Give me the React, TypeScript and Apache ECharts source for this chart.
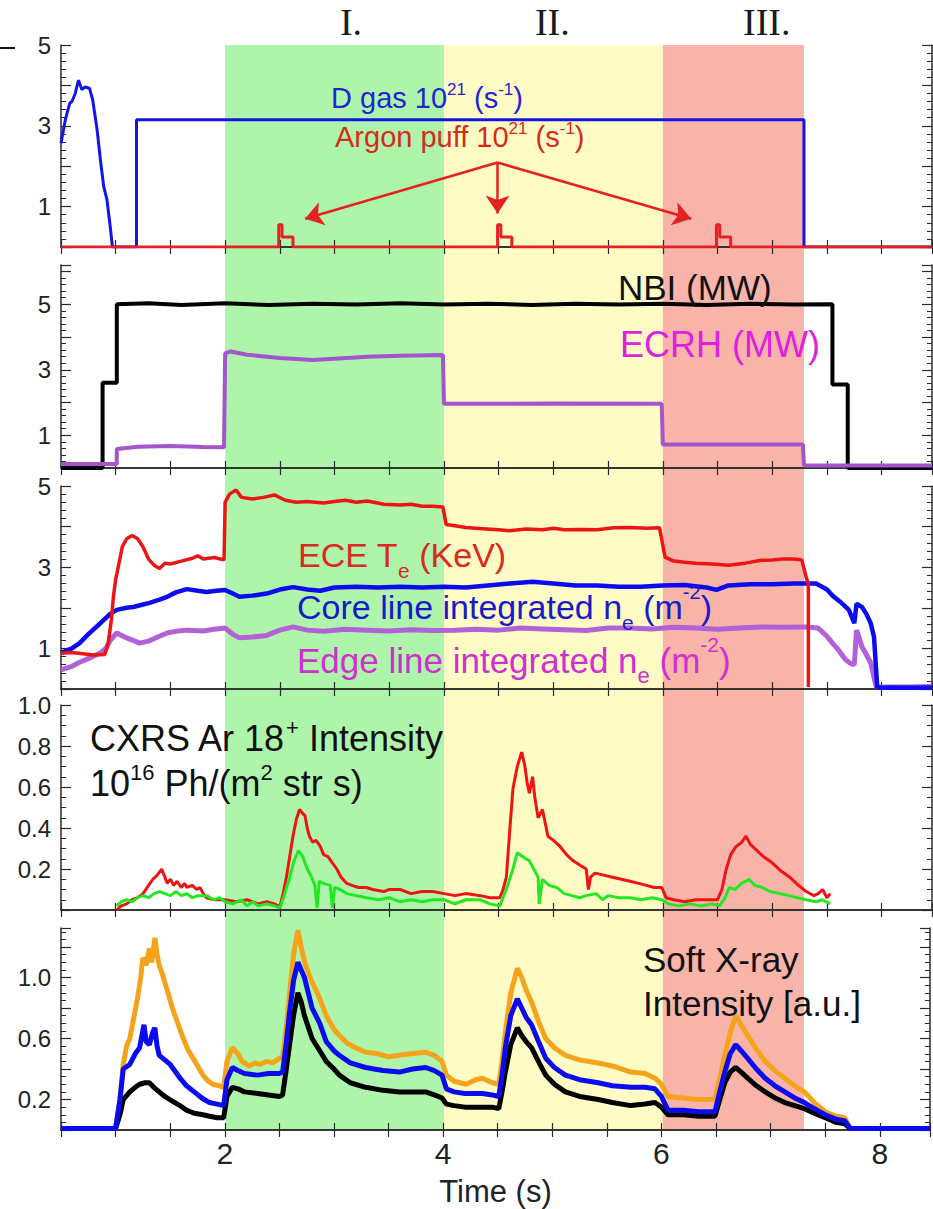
import React, { useEffect, useRef } from "react";
import * as echarts from "echarts";

// ---------------- DATA ----------------
const T_MIN = 0.5;
const T_MAX = 8.46;
const X_TICK_LABELS = [2, 4, 6, 8];
const PHASE_BOUNDS = [2, 4, 6, 7.29];
const PHASE_NAMES = ["I.", "II.", "III."];
const PHASE_NAME_T = [3.15, 4.99, 6.95];

const Y_LABELS_1 = [1, 3, 5];
const Y_LABELS_2 = [1, 3, 5];
const Y_LABELS_3 = [1, 3, 5];
const Y_LABELS_4 = [0.2, 0.4, 0.6, 0.8, 1.0];
const Y_LABELS_5 = [0.2, 0.6, 1.0];

// Panel 1
const D_GAS = [
  [0.5, 2.57], [0.54, 3.15], [0.58, 3.56], [0.6, 3.6], [0.63, 3.8], [0.66, 4.13], [0.69, 3.9],
  [0.72, 3.96], [0.76, 3.93], [0.79, 3.64], [0.83, 2.9], [0.86, 2.16], [0.89, 1.5], [0.92, 1.17],
  [0.95, 0.5], [0.97, 0], [1.19, 0], [1.19, 3.15], [7.29, 3.15], [7.29, 0], [8.46, 0],
];
const ARGON = [
  [0.5, 0], [2.49, 0], [2.49, 0.55], [2.52, 0.55], [2.52, 0.25], [2.62, 0.25], [2.62, 0],
  [4.49, 0], [4.49, 0.55], [4.52, 0.55], [4.52, 0.25], [4.62, 0.25], [4.62, 0],
  [6.49, 0], [6.49, 0.55], [6.52, 0.55], [6.52, 0.25], [6.62, 0.25], [6.62, 0], [8.46, 0],
];
const ARROW_FROM = [4.49, 2.09];
const ARROW_TO = [[2.73, 0.7], [4.49, 0.83], [6.26, 0.7]];

// Panel 2
const NBI = [
  [0.5, 0], [0.88, 0], [0.88, 2.6], [1.01, 2.6], [1.01, 5.0], [1.3, 5.03], [1.6, 4.98], [2.0, 5.03],
  [2.4, 4.98], [2.8, 5.02], [3.2, 4.99], [3.6, 5.03], [4.0, 4.99], [4.4, 5.02], [4.8, 4.98],
  [5.2, 5.02], [5.6, 4.99], [6.0, 5.02], [6.4, 4.98], [6.8, 5.02], [7.2, 4.99], [7.55, 5.0],
  [7.55, 2.55], [7.69, 2.55], [7.69, 0], [8.46, 0],
];
const ECRH = [
  [0.5, 0.12], [1.01, 0.12], [1.01, 0.58], [1.2, 0.65], [1.5, 0.67], [1.8, 0.64], [1.99, 0.63],
  [2.0, 3.5], [2.05, 3.56], [2.2, 3.46], [2.5, 3.36], [2.8, 3.3], [3.0, 3.34], [3.3, 3.4],
  [3.6, 3.43], [3.99, 3.45], [4.0, 1.96], [5.0, 1.97], [5.99, 1.96], [6.0, 0.72], [7.28, 0.72],
  [7.29, 0.08], [8.46, 0.08],
];

// Panel 3
const ECE_TE = [
  [0.5, 0.88], [0.6, 0.9], [0.7, 0.87], [0.8, 0.84], [0.9, 0.85], [0.93, 1.1], [0.96, 1.7],
  [0.98, 2.3], [1.0, 2.7], [1.03, 3.1], [1.06, 3.5], [1.1, 3.7], [1.15, 3.78], [1.2, 3.7],
  [1.25, 3.5], [1.3, 3.2], [1.35, 3.05], [1.4, 2.97], [1.45, 3.1], [1.5, 3.08], [1.6, 3.15],
  [1.7, 3.22], [1.75, 3.28], [1.8, 3.2], [1.9, 3.24], [1.99, 3.18], [2.0, 4.6], [2.04, 4.8],
  [2.1, 4.9], [2.15, 4.72], [2.25, 4.68], [2.35, 4.72], [2.45, 4.78], [2.55, 4.65], [2.65, 4.6],
  [2.75, 4.62], [2.9, 4.58], [3.0, 4.62], [3.1, 4.65], [3.2, 4.6], [3.3, 4.63], [3.45, 4.55],
  [3.6, 4.53], [3.7, 4.55], [3.8, 4.5], [3.9, 4.5], [3.99, 4.48], [4.02, 4.05], [4.1, 4.02],
  [4.2, 3.98], [4.35, 3.95], [4.5, 3.92], [4.6, 3.9], [4.75, 3.94], [4.9, 3.92], [5.0, 3.96],
  [5.1, 3.92], [5.25, 3.93], [5.4, 3.92], [5.55, 3.97], [5.7, 3.98], [5.85, 3.96], [5.97, 3.97],
  [6.02, 3.25], [6.1, 3.15], [6.2, 3.12], [6.3, 3.1], [6.45, 3.08], [6.6, 3.05], [6.75, 3.1],
  [6.9, 3.17], [7.0, 3.18], [7.1, 3.2], [7.2, 3.2], [7.27, 3.18], [7.31, 2.75], [7.33, 2.6],
  [7.33, 0.05],
];
const CORE_NE = [
  [0.5, 0.89], [0.6, 1.0], [0.67, 1.13], [0.75, 1.35], [0.86, 1.62], [0.95, 1.85], [1.01, 1.95],
  [1.1, 2.0], [1.16, 2.02], [1.25, 2.08], [1.31, 2.12], [1.4, 2.2], [1.47, 2.27], [1.55, 2.38],
  [1.65, 2.46], [1.75, 2.42], [1.83, 2.39], [1.92, 2.42], [2.0, 2.44], [2.07, 2.35], [2.13, 2.27],
  [2.25, 2.3], [2.38, 2.35], [2.5, 2.45], [2.62, 2.51], [2.75, 2.45], [2.87, 2.42], [3.0, 2.5],
  [3.2, 2.52], [3.4, 2.5], [3.6, 2.52], [3.8, 2.5], [4.0, 2.52], [4.2, 2.5], [4.4, 2.55],
  [4.6, 2.6], [4.81, 2.64], [5.0, 2.6], [5.2, 2.55], [5.4, 2.55], [5.6, 2.52], [5.8, 2.52],
  [6.0, 2.55], [6.2, 2.56], [6.4, 2.5], [6.49, 2.44], [6.6, 2.55], [6.8, 2.58], [7.0, 2.58],
  [7.2, 2.6], [7.4, 2.6], [7.5, 2.45], [7.55, 2.3], [7.62, 2.15], [7.7, 1.95], [7.75, 1.62],
  [7.77, 2.1], [7.8, 2.05], [7.82, 2.02], [7.86, 1.85], [7.9, 1.62], [7.93, 1.28], [7.96, 0.03],
  [8.1, 0.04], [8.3, 0.03], [8.46, 0.04],
];
const EDGE_NE = [
  [0.5, 0.47], [0.6, 0.56], [0.67, 0.66], [0.76, 0.76], [0.86, 0.89], [0.91, 1.0], [0.95, 1.2],
  [1.01, 1.38], [1.05, 1.32], [1.1, 1.26], [1.22, 1.13], [1.3, 1.18], [1.4, 1.3], [1.47, 1.38],
  [1.55, 1.42], [1.65, 1.45], [1.8, 1.43], [1.9, 1.47], [2.0, 1.5], [2.07, 1.35], [2.13, 1.26],
  [2.25, 1.28], [2.38, 1.32], [2.5, 1.45], [2.62, 1.53], [2.75, 1.45], [2.9, 1.42], [3.1, 1.47],
  [3.3, 1.45], [3.5, 1.43], [3.7, 1.46], [3.9, 1.44], [4.1, 1.45], [4.3, 1.47], [4.5, 1.45],
  [4.7, 1.5], [4.9, 1.48], [5.1, 1.46], [5.3, 1.44], [5.5, 1.5], [5.7, 1.5], [5.9, 1.48],
  [6.1, 1.52], [6.3, 1.5], [6.5, 1.47], [6.7, 1.5], [6.9, 1.53], [7.1, 1.52], [7.3, 1.53],
  [7.42, 1.5], [7.5, 1.3], [7.55, 1.13], [7.6, 0.98], [7.67, 0.72], [7.72, 0.62], [7.75, 0.6],
  [7.77, 1.45], [7.79, 1.3], [7.82, 1.04], [7.86, 0.85], [7.9, 0.64], [7.95, 0.05], [8.2, 0.05],
  [8.46, 0.06],
];

// Panel 4
const CXRS_RED = [
  [1.01, 0.0], [1.05, 0.02], [1.1, 0.03], [1.15, 0.05], [1.2, 0.06], [1.25, 0.08], [1.3, 0.12],
  [1.34, 0.15], [1.38, 0.17], [1.42, 0.2], [1.45, 0.16], [1.47, 0.13], [1.5, 0.15], [1.53, 0.12],
  [1.56, 0.14], [1.6, 0.11], [1.63, 0.13], [1.65, 0.11], [1.7, 0.12], [1.74, 0.1], [1.77, 0.11],
  [1.8, 0.08], [1.83, 0.06], [1.9, 0.05], [2.0, 0.05], [2.1, 0.04], [2.2, 0.05], [2.3, 0.03],
  [2.38, 0.04], [2.45, 0.03], [2.5, 0.015], [2.53, 0.08], [2.56, 0.16], [2.59, 0.26], [2.62, 0.36],
  [2.65, 0.44], [2.68, 0.49], [2.71, 0.47], [2.73, 0.46], [2.75, 0.4], [2.77, 0.36], [2.8, 0.33],
  [2.83, 0.34], [2.87, 0.31], [2.9, 0.27], [2.94, 0.26], [2.98, 0.23], [3.02, 0.2], [3.06, 0.16],
  [3.11, 0.13], [3.16, 0.12], [3.22, 0.11], [3.29, 0.11], [3.35, 0.1], [3.45, 0.09], [3.5, 0.1],
  [3.6, 0.1], [3.7, 0.08], [3.8, 0.09], [3.9, 0.09], [4.0, 0.08], [4.1, 0.07], [4.2, 0.08],
  [4.33, 0.07], [4.42, 0.06], [4.51, 0.06], [4.54, 0.1], [4.57, 0.16], [4.6, 0.38], [4.63, 0.59],
  [4.67, 0.7], [4.71, 0.77], [4.74, 0.7], [4.76, 0.62], [4.78, 0.57], [4.81, 0.65], [4.83, 0.55],
  [4.86, 0.45], [4.9, 0.49], [4.95, 0.36], [5.0, 0.34], [5.06, 0.31], [5.12, 0.27], [5.18, 0.24],
  [5.24, 0.22], [5.3, 0.2], [5.32, 0.1], [5.34, 0.16], [5.38, 0.18], [5.46, 0.17], [5.54, 0.16],
  [5.62, 0.15], [5.7, 0.14], [5.78, 0.13], [5.85, 0.12], [5.92, 0.11], [5.99, 0.11], [6.03, 0.06],
  [6.1, 0.05], [6.2, 0.04], [6.3, 0.05], [6.4, 0.05], [6.5, 0.05], [6.54, 0.1], [6.58, 0.2],
  [6.62, 0.27], [6.67, 0.31], [6.72, 0.33], [6.76, 0.36], [6.8, 0.32], [6.86, 0.29], [6.92, 0.26],
  [7.0, 0.23], [7.08, 0.19], [7.16, 0.16], [7.24, 0.12], [7.31, 0.09], [7.38, 0.07], [7.42, 0.08],
  [7.46, 0.1], [7.5, 0.06], [7.53, 0.08],
];
const CXRS_GREEN = [
  [1.01, 0.02], [1.05, 0.04], [1.1, 0.05], [1.15, 0.04], [1.2, 0.06], [1.25, 0.07], [1.3, 0.06],
  [1.35, 0.08], [1.4, 0.09], [1.45, 0.08], [1.5, 0.07], [1.55, 0.09], [1.6, 0.07], [1.65, 0.08],
  [1.7, 0.06], [1.75, 0.07], [1.83, 0.07], [1.9, 0.05], [1.95, 0.06], [2.0, 0.04], [2.07, 0.03],
  [2.15, 0.05], [2.2, 0.02], [2.25, 0.04], [2.3, 0.02], [2.38, 0.03], [2.45, 0.02], [2.5, 0.01],
  [2.54, 0.07], [2.59, 0.16], [2.63, 0.24], [2.67, 0.29], [2.71, 0.26], [2.75, 0.2], [2.79, 0.16],
  [2.82, 0.12], [2.84, 0.01], [2.86, 0.14], [2.9, 0.13], [2.96, 0.12], [2.98, 0.01], [3.0, 0.11],
  [3.05, 0.1], [3.11, 0.08], [3.2, 0.07], [3.29, 0.06], [3.4, 0.05], [3.5, 0.06], [3.6, 0.04],
  [3.7, 0.05], [3.8, 0.04], [3.9, 0.05], [4.0, 0.05], [4.1, 0.03], [4.2, 0.05], [4.33, 0.05],
  [4.42, 0.03], [4.51, 0.02], [4.57, 0.1], [4.63, 0.2], [4.67, 0.28], [4.72, 0.26], [4.78, 0.24],
  [4.83, 0.19], [4.86, 0.16], [4.87, 0.03], [4.9, 0.15], [4.96, 0.12], [5.03, 0.11], [5.1, 0.08],
  [5.17, 0.07], [5.24, 0.06], [5.3, 0.07], [5.39, 0.08], [5.45, 0.05], [5.5, 0.07], [5.6, 0.06],
  [5.7, 0.06], [5.8, 0.05], [5.9, 0.06], [5.99, 0.05], [6.05, 0.03], [6.15, 0.02], [6.25, 0.03],
  [6.35, 0.02], [6.45, 0.03], [6.52, 0.02], [6.57, 0.06], [6.61, 0.11], [6.66, 0.1], [6.72, 0.13],
  [6.79, 0.15], [6.84, 0.12], [6.91, 0.11], [6.98, 0.09], [7.07, 0.08], [7.15, 0.07], [7.23, 0.06],
  [7.31, 0.05], [7.4, 0.04], [7.46, 0.05], [7.53, 0.03],
];

// Panel 5
const SXR_ORANGE = [
  [0.5, 0.01], [1.0, 0.01], [1.04, 0.2], [1.07, 0.43], [1.1, 0.55], [1.13, 0.6], [1.17, 0.75],
  [1.2, 0.86], [1.23, 1.0], [1.25, 1.13], [1.28, 1.08], [1.31, 1.19], [1.33, 1.1], [1.36, 1.26],
  [1.38, 1.15], [1.4, 1.08], [1.43, 1.02], [1.45, 0.97], [1.48, 0.9], [1.52, 0.8], [1.56, 0.72],
  [1.61, 0.62], [1.66, 0.53], [1.71, 0.47], [1.76, 0.41], [1.8, 0.36], [1.85, 0.32], [1.89, 0.3],
  [1.95, 0.29], [1.99, 0.28], [2.02, 0.45], [2.07, 0.54], [2.12, 0.5], [2.16, 0.45], [2.22, 0.42],
  [2.28, 0.44], [2.32, 0.43], [2.38, 0.45], [2.44, 0.44], [2.5, 0.47], [2.53, 0.48], [2.56, 0.65],
  [2.59, 0.87], [2.63, 1.15], [2.67, 1.31], [2.7, 1.2], [2.74, 1.08], [2.8, 0.97], [2.86, 0.88],
  [2.93, 0.75], [3.0, 0.66], [3.05, 0.62], [3.12, 0.57], [3.2, 0.54], [3.29, 0.51], [3.4, 0.5],
  [3.5, 0.48], [3.6, 0.49], [3.7, 0.5], [3.84, 0.51], [3.92, 0.49], [3.99, 0.45], [4.03, 0.36],
  [4.1, 0.32], [4.21, 0.3], [4.3, 0.33], [4.36, 0.34], [4.45, 0.31], [4.51, 0.3], [4.54, 0.45],
  [4.57, 0.64], [4.62, 0.9], [4.68, 1.06], [4.72, 1.0], [4.76, 0.92], [4.81, 0.84], [4.88, 0.7],
  [4.94, 0.6], [5.02, 0.54], [5.12, 0.49], [5.25, 0.46], [5.42, 0.44], [5.55, 0.42], [5.72, 0.38],
  [5.85, 0.37], [5.94, 0.34], [6.0, 0.3], [6.06, 0.22], [6.2, 0.21], [6.34, 0.2], [6.49, 0.2],
  [6.53, 0.32], [6.58, 0.49], [6.63, 0.64], [6.68, 0.75], [6.73, 0.69], [6.79, 0.62], [6.87, 0.53],
  [6.95, 0.45], [7.04, 0.39], [7.13, 0.34], [7.22, 0.29], [7.31, 0.25], [7.4, 0.18], [7.5, 0.12],
  [7.6, 0.09], [7.68, 0.08], [7.73, 0.01], [8.46, 0.01],
];
const SXR_BLUE = [
  [0.5, 0.01], [1.0, 0.01], [1.04, 0.2], [1.07, 0.4], [1.13, 0.43], [1.18, 0.5], [1.22, 0.54],
  [1.26, 0.69], [1.28, 0.58], [1.31, 0.56], [1.34, 0.64], [1.36, 0.67], [1.38, 0.55], [1.4, 0.49],
  [1.45, 0.46], [1.5, 0.43], [1.55, 0.38], [1.59, 0.34], [1.65, 0.29], [1.72, 0.25], [1.79, 0.21],
  [1.86, 0.18], [1.93, 0.17], [1.99, 0.16], [2.02, 0.33], [2.07, 0.41], [2.12, 0.39], [2.18, 0.37],
  [2.3, 0.36], [2.4, 0.37], [2.5, 0.37], [2.53, 0.38], [2.56, 0.55], [2.59, 0.75], [2.63, 0.98],
  [2.67, 1.1], [2.7, 1.05], [2.73, 1.0], [2.8, 0.8], [2.87, 0.7], [2.93, 0.58], [3.0, 0.52],
  [3.05, 0.49], [3.15, 0.44], [3.29, 0.41], [3.45, 0.39], [3.6, 0.38], [3.72, 0.4], [3.84, 0.41],
  [3.92, 0.39], [3.99, 0.36], [4.03, 0.27], [4.1, 0.25], [4.2, 0.24], [4.36, 0.24], [4.45, 0.23],
  [4.51, 0.22], [4.54, 0.36], [4.57, 0.54], [4.62, 0.75], [4.68, 0.86], [4.72, 0.8], [4.76, 0.74],
  [4.81, 0.69], [4.88, 0.57], [4.94, 0.47], [5.02, 0.41], [5.12, 0.36], [5.25, 0.33], [5.42, 0.31],
  [5.55, 0.29], [5.72, 0.28], [5.85, 0.28], [5.94, 0.27], [6.0, 0.22], [6.06, 0.13], [6.2, 0.13],
  [6.34, 0.12], [6.49, 0.12], [6.53, 0.24], [6.58, 0.38], [6.63, 0.5], [6.68, 0.56], [6.73, 0.52],
  [6.79, 0.47], [6.87, 0.4], [6.95, 0.34], [7.04, 0.29], [7.13, 0.25], [7.22, 0.21], [7.31, 0.18],
  [7.4, 0.14], [7.5, 0.1], [7.6, 0.07], [7.68, 0.06], [7.73, 0.01], [8.46, 0.01],
];
const SXR_BLACK = [
  [0.5, 0.01], [1.0, 0.01], [1.04, 0.1], [1.07, 0.2], [1.13, 0.25], [1.18, 0.28], [1.22, 0.3],
  [1.27, 0.31], [1.31, 0.31], [1.35, 0.28], [1.4, 0.25], [1.45, 0.22], [1.52, 0.19], [1.59, 0.16],
  [1.65, 0.13], [1.72, 0.11], [1.8, 0.1], [1.86, 0.09], [1.93, 0.08], [1.99, 0.08], [2.02, 0.22],
  [2.07, 0.28], [2.12, 0.27], [2.18, 0.25], [2.3, 0.24], [2.4, 0.23], [2.5, 0.22], [2.53, 0.23],
  [2.56, 0.38], [2.59, 0.54], [2.63, 0.75], [2.67, 0.9], [2.7, 0.84], [2.73, 0.75], [2.8, 0.6],
  [2.87, 0.52], [2.93, 0.45], [3.0, 0.4], [3.05, 0.36], [3.15, 0.31], [3.29, 0.28], [3.45, 0.26],
  [3.6, 0.25], [3.72, 0.25], [3.84, 0.25], [3.92, 0.23], [3.99, 0.21], [4.03, 0.17], [4.1, 0.16],
  [4.2, 0.15], [4.36, 0.15], [4.45, 0.15], [4.51, 0.14], [4.54, 0.25], [4.57, 0.38], [4.62, 0.56],
  [4.68, 0.67], [4.72, 0.62], [4.76, 0.58], [4.81, 0.54], [4.88, 0.44], [4.94, 0.36], [5.02, 0.3],
  [5.12, 0.25], [5.25, 0.22], [5.42, 0.2], [5.55, 0.18], [5.72, 0.16], [5.85, 0.17], [5.94, 0.18],
  [6.0, 0.15], [6.06, 0.1], [6.2, 0.1], [6.34, 0.09], [6.49, 0.09], [6.53, 0.19], [6.58, 0.31],
  [6.63, 0.38], [6.68, 0.41], [6.73, 0.38], [6.79, 0.34], [6.87, 0.29], [6.95, 0.25], [7.04, 0.21],
  [7.13, 0.18], [7.22, 0.16], [7.31, 0.14], [7.4, 0.11], [7.5, 0.08], [7.6, 0.05], [7.68, 0.04],
  [7.73, 0.01], [8.46, 0.01],
];

// ---------------- LAYOUT / STYLE ----------------
const FONT = "Liberation Sans, Arial, sans-serif";
const SERIF = "Liberation Serif, Times New Roman, serif";
const AXIS_COLOR = "#2a2a2a";
const GRID_LEFT = 61;
const GRID_WIDTH = 871;
const PHASE_COLORS = ["#aef5ab", "#fefbc4", "#f8b4a9"];

const PANELS = [
  { top: 45, height: 202, min: 0, max: 5, interval: 1, minor: 5, labels: Y_LABELS_1, digits: 0 },
  { top: 265, height: 203, min: 0, max: 6.2, interval: 1, minor: 5, labels: Y_LABELS_2, digits: 0 },
  { top: 486, height: 203, min: 0, max: 5, interval: 1, minor: 5, labels: Y_LABELS_3, digits: 0 },
  { top: 705, height: 205, min: 0, max: 1, interval: 0.2, minor: 4, labels: Y_LABELS_4, digits: 1 },
  { top: 928, height: 202, min: 0, max: 1.325, interval: 0.2, minor: 4, labels: Y_LABELS_5, digits: 1 },
];

function fmt(labels: number[], digits: number) {
  return (v: number) => {
    for (const l of labels) if (Math.abs(v - l) < 1e-6) return l.toFixed(digits);
    return "";
  };
}

function buildOption() {
  const grid: any[] = [];
  const xAxis: any[] = [];
  const yAxis: any[] = [];
  const axisLine = { show: true, lineStyle: { color: AXIS_COLOR, width: 1.5 } };
  PANELS.forEach((p, i) => {
    grid.push({ left: GRID_LEFT, width: GRID_WIDTH, top: p.top, height: p.height, show: false });
    const isLast = i === PANELS.length - 1;
    xAxis.push({
      type: "value", gridIndex: i, position: "bottom", min: T_MIN, max: T_MAX, interval: 0.5,
      axisLine, splitLine: { show: false },
      axisTick: { show: true, inside: true, length: 7, lineStyle: { color: AXIS_COLOR, width: 1.2 } },
      axisLabel: {
        show: isLast, interval: 0, formatter: fmt(X_TICK_LABELS, 0), fontSize: 30,
        fontFamily: FONT, color: "#222", margin: 8,
      },
      name: isLast ? "Time (s)" : "", nameLocation: "middle", nameGap: 46,
      nameTextStyle: { fontSize: 31, fontFamily: FONT, color: "#222" },
    });
    xAxis.push({
      type: "value", gridIndex: i, position: "top", min: T_MIN, max: T_MAX, interval: 0.5,
      axisLine, splitLine: { show: false },
      axisTick: { show: true, inside: true, length: 7, lineStyle: { color: AXIS_COLOR, width: 1.2 } },
      axisLabel: { show: false },
    });
    const yCommon = {
      type: "value", gridIndex: i, min: p.min, max: p.max, interval: p.interval,
      axisLine, splitLine: { show: false }, minorSplitLine: { show: false },
      axisTick: { show: true, inside: true, length: 10, lineStyle: { color: AXIS_COLOR, width: 1.2 } },
      minorTick: { show: true, splitNumber: p.minor, length: 5, lineStyle: { color: AXIS_COLOR, width: 1 } },
    };
    yAxis.push({
      ...yCommon, position: "left",
      axisLabel: {
        show: true, formatter: fmt(p.labels, p.digits), fontSize: 24, fontFamily: FONT,
        color: "#222", margin: 10,
      },
    });
    yAxis.push({ ...yCommon, position: "right", axisLabel: { show: false } });
  });

  const line = (data: number[][], color: string, width: number, panel: number, z = 3) => ({
    type: "line", xAxisIndex: 2 * panel, yAxisIndex: 2 * panel, data, showSymbol: false,
    symbol: "none", silent: true, z, lineStyle: { color, width }, itemStyle: { color },
  });

  const series: any[] = [
    line(D_GAS, "#1414e6", 3, 0),
    line(ARGON, "#e42222", 3, 0, 4),
    {
      type: "lines", coordinateSystem: "cartesian2d", xAxisIndex: 0, yAxisIndex: 0, silent: true,
      z: 5, symbol: ["none", "arrow"], symbolSize: 18,
      lineStyle: { color: "#e42222", width: 2.5, opacity: 1 },
      data: ARROW_TO.map((to) => ({ coords: [ARROW_FROM, to] })),
    },
    line(NBI, "#000000", 4, 1, 3),
    line(ECRH, "#a454cc", 4, 1, 4),
    line(EDGE_NE, "#b262d6", 5, 2, 3),
    line(CORE_NE, "#0c0cee", 4.5, 2, 4),
    line(ECE_TE, "#ee1414", 3.5, 2, 5),
    line(CXRS_RED, "#ee1414", 3, 3, 3),
    line(CXRS_GREEN, "#22e822", 3, 3, 4),
    line(SXR_ORANGE, "#f5a31a", 5, 4, 3),
    line(SXR_BLACK, "#000000", 5, 4, 4),
    line(SXR_BLUE, "#0b0bf0", 5, 4, 5),
  ];

  return { animation: false, backgroundColor: "#ffffff", grid, xAxis, yAxis, series };
}

function richText(x: number, y: number, text: string, fill: string, F: number, hasSub = false) {
  const LH = hasSub ? 1.5 * F : 1.2 * F;
  const mainC = LH / 2;
  const supLH = 2 * (mainC - 0.33 * F);
  const subLH = 2 * (LH - mainC - 0.42 * F);
  return {
    type: "text", x, y, z: 50, silent: true,
    style: {
      text, fill, align: "left", verticalAlign: "middle", fontSize: F, fontFamily: FONT,
      rich: {
        a: { fontSize: F, fontFamily: FONT, fill, lineHeight: LH },
        sup: { fontSize: Math.round(F * 0.6), fontFamily: FONT, fill, lineHeight: supLH, verticalAlign: "top" },
        sub: { fontSize: Math.round(F * 0.62), fontFamily: FONT, fill, lineHeight: subLH, verticalAlign: "bottom" },
      },
    },
  };
}

export default function App() {
  const ref = useRef<HTMLDivElement>(null);
  useEffect(() => {
    document.body.style.margin = "0";
    const chart = echarts.init(ref.current as HTMLDivElement, null, { renderer: "svg" });
    chart.setOption(buildOption());

    const px = (t: number) => chart.convertToPixel({ xAxisIndex: 0 }, t) as number;
    const yTop = PANELS[0].top;
    const yBot = PANELS[PANELS.length - 1].top + PANELS[PANELS.length - 1].height;
    const rects = PHASE_COLORS.map((c, i) => ({
      type: "rect", z: -10, silent: true,
      shape: { x: px(PHASE_BOUNDS[i]), y: yTop, width: px(PHASE_BOUNDS[i + 1]) - px(PHASE_BOUNDS[i]), height: yBot - yTop },
      style: { fill: c },
    }));
    const romans = PHASE_NAMES.map((n, i) => ({
      type: "text", x: px(PHASE_NAME_T[i]), y: 22, z: 50, silent: true,
      style: { text: n, fill: "#1a1a1a", align: "center", verticalAlign: "middle", fontSize: 38, fontFamily: SERIF },
    }));
    const texts = [
      richText(331, 98, "{a|D gas 10}{sup|21}{a| (s}{sup|-1}{a|)}", "#2424d4", 29),
      richText(335, 137, "{a|Argon puff 10}{sup|21}{a| (s}{sup|-1}{a|)}", "#d52b1e", 29),
      richText(618, 287, "{a|NBI (MW)}", "#111111", 35),
      richText(620, 344, "{a|ECRH (MW)}", "#e020e0", 36),
      richText(298, 555, "{a|ECE T}{sub|e}{a| (KeV)}", "#d82a20", 34, true),
      richText(297, 607, "{a|Core line integrated n}{sub|e}{a| (m}{sup|-2}{a|)}", "#1a1ac8", 34, true),
      richText(297, 660, "{a|Edge line integrated n}{sub|e}{a| (m}{sup|-2}{a|)}", "#d030d0", 35, true),
      richText(90, 738, "{a|CXRS Ar 18}{sup|+}{a| Intensity}", "#111111", 36),
      richText(90, 783, "{a|10}{sup|16}{a| Ph/(m}{sup|2}{a| str s)}", "#111111", 36),
      richText(643, 959, "{a|Soft X-ray}", "#111111", 35),
      richText(643, 1003, "{a|Intensity [a.u.]}", "#111111", 35),
    ];
    const mark = {
      type: "line", z: 50, silent: true,
      shape: { x1: 0, y1: 48, x2: 15, y2: 48 },
      style: { stroke: "#111", lineWidth: 2 },
    };
    chart.setOption({ graphic: { elements: [...rects, ...romans, ...texts, mark] } });
    return () => chart.dispose();
  }, []);
  return <div ref={ref} style={{ width: 933, height: 1209 }} />;
}
